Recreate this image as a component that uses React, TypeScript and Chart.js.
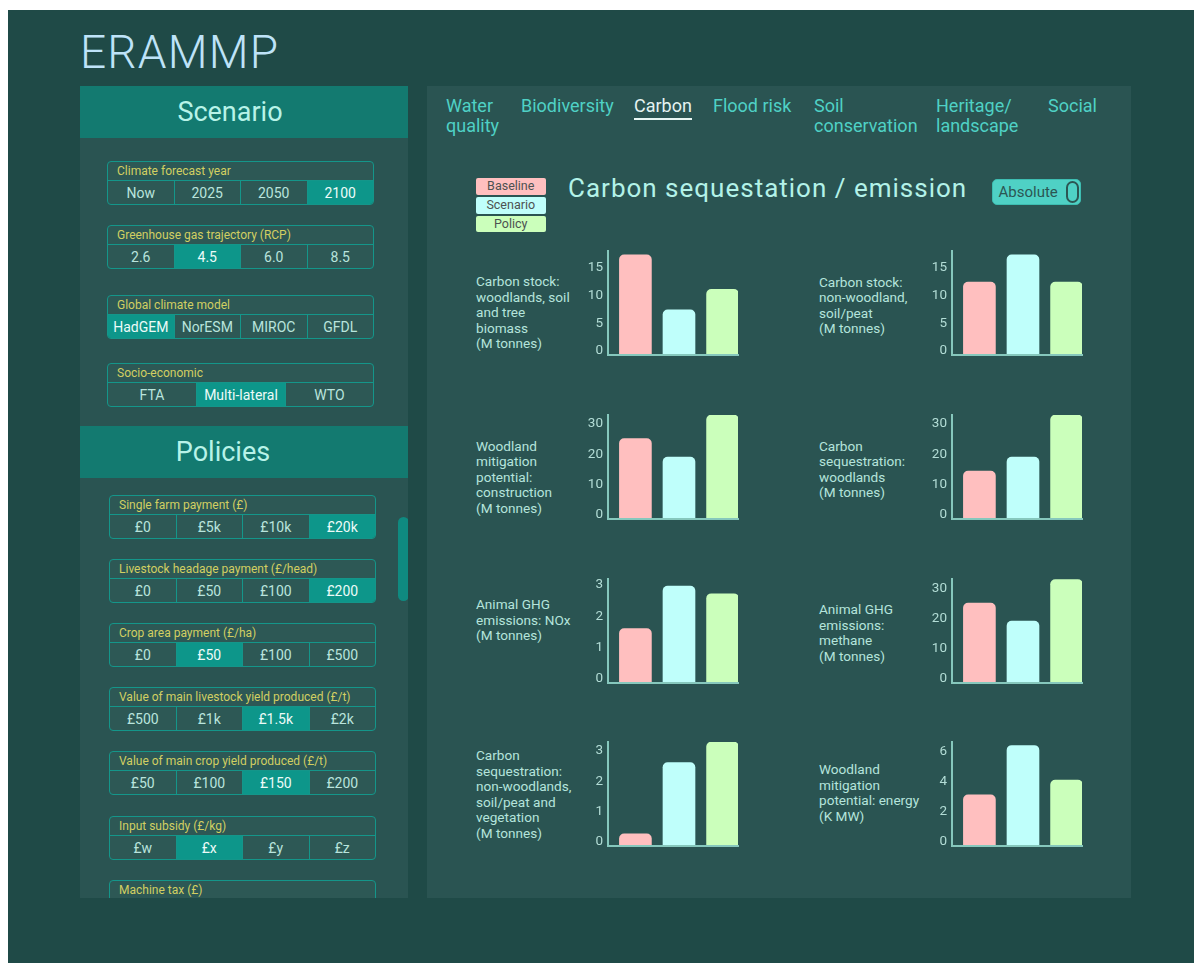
import React, { useEffect, useRef } from "react";
import { Chart, registerables } from "chart.js";
Chart.register(...registerables);

const FONT = "Roboto, 'Noto Sans', sans-serif";

// ---------- data ----------
const seriesNames = ["Baseline", "Scenario", "Policy"];
const seriesColors = ["#ffbfbf", "#bffffb", "#cbffbb"];

const chartLabels: string[][] = [
  ["Carbon stock:", "woodlands, soil", "and tree", "biomass", "(M tonnes)"],
  ["Carbon stock:", "non-woodland,", "soil/peat", "(M tonnes)"],
  ["Woodland", "mitigation", "potential:", "construction", "(M tonnes)"],
  ["Carbon", "sequestration:", "woodlands", "(M tonnes)"],
  ["Animal GHG", "emissions: NOx", "(M tonnes)"],
  ["Animal GHG", "emissions:", "methane", "(M tonnes)"],
  ["Carbon", "sequestration:", "non-woodlands,", "soil/peat and", "vegetation", "(M tonnes)"],
  ["Woodland", "mitigation", "potential: energy", "(K MW)"],
];
const baselineValues = [18.0, 13.1, 26.5, 15.8, 1.74, 26.6, 0.4, 3.38];
const scenarioValues = [8.1, 18.0, 20.4, 20.4, 3.09, 20.6, 2.74, 6.64];
const policyValues = [11.8, 13.1, 34.3, 34.3, 2.85, 34.4, 3.42, 4.36];
const axisMax = [18.7, 18.7, 34.3, 34.3, 3.32, 34.6, 3.42, 6.87];
const tickSteps = [5, 5, 10, 10, 1, 10, 1, 2];

const tabs = ["Water\nquality", "Biodiversity", "Carbon", "Flood risk", "Soil\nconservation", "Heritage/\nlandscape", "Social"];
const activeTab = 2;

const scenarioGroups = [
  { label: "Climate forecast year", options: ["Now", "2025", "2050", "2100"], selected: 3 },
  { label: "Greenhouse gas trajectory (RCP)", options: ["2.6", "4.5", "6.0", "8.5"], selected: 1 },
  { label: "Global climate model", options: ["HadGEM", "NorESM", "MIROC", "GFDL"], selected: 0 },
  { label: "Socio-economic", options: ["FTA", "Multi-lateral", "WTO"], selected: 1 },
];
const policyGroups = [
  { label: "Single farm payment (£)", options: ["£0", "£5k", "£10k", "£20k"], selected: 3 },
  { label: "Livestock headage payment (£/head)", options: ["£0", "£50", "£100", "£200"], selected: 3 },
  { label: "Crop area payment (£/ha)", options: ["£0", "£50", "£100", "£500"], selected: 1 },
  { label: "Value of main livestock yield produced (£/t)", options: ["£500", "£1k", "£1.5k", "£2k"], selected: 2 },
  { label: "Value of main crop yield produced (£/t)", options: ["£50", "£100", "£150", "£200"], selected: 2 },
  { label: "Input subsidy (£/kg)", options: ["£w", "£x", "£y", "£z"], selected: 1 },
  { label: "Machine tax (£)", options: [] as string[], selected: -1 },
];

// ---------- layout / style ----------
const BG = "#1f4a47";
const PANEL = "#2a5452";
const HEADER = "#137a70";
const SEL = "#0d968a";
const LINE = "#14968a";
const YELLOW = "#d2cf62";
const BTN_TEXT = "#b9e4dd";
const LABEL_TEXT = "#b5e4dc";
const AXIS = "#86c8bd";

const scenarioTops = [161, 225, 295, 362.5];
const policyTops = [494.5, 558.5, 623, 687, 751, 815.5, 879.5];
const tabX = [446, 521, 634, 713, 814, 936, 1048];
const colAxisX = [608, 951.5];
const colLabelX = [476, 819];
const rowAxisTop = [251, 415, 579, 742];
const labelFirstCenter = [282, 282.5, 446.7, 446.7, 605, 610, 756, 770];

function MiniBar({ index }: { index: number }) {
  const ref = useRef<HTMLCanvasElement>(null);
  const col = index % 2;
  const row = Math.floor(index / 2);
  const left = colAxisX[col] - 46;
  const top = rowAxisTop[row] - 8;
  useEffect(() => {
    const values = [baselineValues[index], scenarioValues[index], policyValues[index]];
    const chart = new Chart(ref.current as HTMLCanvasElement, {
      type: "bar",
      data: {
        datasets: [
          {
            label: "values",
            data: values.map((v, i) => ({ x: i, y: v })),
            backgroundColor: seriesColors,
            borderWidth: 0,
            borderRadius: 5,
            barThickness: 32,
          } as any,
        ],
      },
      options: {
        responsive: false,
        animation: false,
        devicePixelRatio: 1,
        layout: { padding: { top: 8, right: 3, bottom: 3, left: 0 } },
        plugins: { legend: { display: false }, tooltip: { enabled: false } },
        scales: {
          x: {
            type: "linear",
            offset: false,
            min: -0.629,
            max: 2.354,
            ticks: { display: false, stepSize: 1 },
            grid: { display: false, drawTicks: false },
            border: { display: true, color: AXIS, width: 2, z: 1 },
            afterFit: (s: any) => {
              s.height = 0;
              s.paddingLeft = 0;
              s.paddingRight = 0;
            },
          },
          y: {
            min: 0,
            max: axisMax[index],
            ticks: {
              stepSize: tickSteps[index],
              includeBounds: false,
              color: "#b3ddd6",
              font: { family: FONT, size: 13.5 },
              padding: 5,
              labelOffset: -4,
            },
            grid: { display: false, drawTicks: false },
            border: { display: true, color: AXIS, width: 2, z: 1 },
            afterFit: (s: any) => {
              s.width = 46;
              s.paddingTop = 0;
              s.paddingBottom = 0;
            },
          },
        } as any,
      },
    });
    return () => chart.destroy();
  }, [index]);
  return (
    <canvas
      ref={ref}
      width={179}
      height={115}
      style={{ position: "absolute", left, top, width: 179, height: 115 }}
    />
  );
}

function ChartLabel({ index }: { index: number }) {
  const col = index % 2;
  const lh = 15.5;
  return (
    <div
      style={{
        position: "absolute",
        left: colLabelX[col],
        top: labelFirstCenter[index] - lh / 2,
        fontSize: 13.6,
        lineHeight: `${lh}px`,
        color: LABEL_TEXT,
        whiteSpace: "nowrap",
      }}
    >
      {chartLabels[index].map((l, i) => (
        <div key={i}>{l}</div>
      ))}
    </div>
  );
}

function Group({
  left,
  top,
  width,
  label,
  options,
  selected,
  widths,
}: {
  left: number;
  top: number;
  width: number;
  label: string;
  options: string[];
  selected: number;
  widths?: number[];
}) {
  return (
    <div
      style={{
        position: "absolute",
        left,
        top,
        width,
        height: 44,
        boxSizing: "border-box",
        border: `1px solid ${LINE}`,
        borderRadius: 4,
        overflow: "hidden",
        background: "#2d5855",
      }}
    >
      <div
        style={{
          height: 18,
          lineHeight: "18px",
          borderBottom: `1px solid ${LINE}`,
          paddingLeft: 9,
          fontSize: 12,
          color: YELLOW,
          whiteSpace: "nowrap",
        }}
      >
        {label}
      </div>
      <div style={{ display: "flex", height: 24 }}>
        {options.map((o, i) => (
          <div
            key={i}
            style={{
              flex: widths ? `0 0 ${widths[i]}px` : "1 1 0",
              boxSizing: "border-box",
              borderLeft: i === 0 ? "none" : `1px solid ${LINE}`,
              background: i === selected ? SEL : "transparent",
              color: i === selected ? "#ecfbf8" : BTN_TEXT,
              fontSize: 14,
              lineHeight: "25px",
              textAlign: "center",
            }}
          >
            {o}
          </div>
        ))}
      </div>
    </div>
  );
}

function LeftPanel() {
  const ox = 80;
  const oy = 86;
  return (
    <div
      style={{
        position: "absolute",
        left: ox,
        top: oy,
        width: 328,
        height: 812,
        background: PANEL,
        overflow: "hidden",
      }}
    >
      <div
        style={{
          position: "absolute",
          left: 0,
          top: 0,
          width: 328,
          height: 52,
          background: HEADER,
          color: "#b8f3e8",
          fontSize: 27,
          lineHeight: "52px",
        }}
      >
        <span style={{ position: "absolute", left: 230 - ox - 60, top: 0, width: 120, textAlign: "center" }}>Scenario</span>
      </div>
      {scenarioGroups.map((g, i) => (
        <Group
          key={i}
          left={107 - ox}
          top={scenarioTops[i] - oy}
          width={267}
          label={g.label}
          options={g.options}
          selected={g.selected}
          widths={g.options.length === 3 ? [88, 89, 88] : undefined}
        />
      ))}
      <div
        style={{
          position: "absolute",
          left: 0,
          top: 426 - oy,
          width: 328,
          height: 52,
          background: HEADER,
          color: "#b8f3e8",
          fontSize: 27,
          lineHeight: "52px",
        }}
      >
        <span style={{ position: "absolute", left: 223 - ox - 60, top: 0, width: 120, textAlign: "center" }}>Policies</span>
      </div>
      {policyGroups.map((g, i) => (
        <Group
          key={i}
          left={109 - ox}
          top={policyTops[i] - oy}
          width={267}
          label={g.label}
          options={g.options}
          selected={g.selected}
        />
      ))}
      <div
        style={{
          position: "absolute",
          left: 397.5 - ox,
          top: 516.5 - oy,
          width: 11,
          height: 84,
          borderRadius: 6,
          background: "#0f8a80",
        }}
      />
    </div>
  );
}

function RightPanel() {
  return (
    <>
      <div
        style={{
          position: "absolute",
          left: 427,
          top: 86,
          width: 704,
          height: 812,
          background: PANEL,
        }}
      />
      {tabs.map((t, i) => (
        <div
          key={i}
          style={{
            position: "absolute",
            left: tabX[i],
            top: 96,
            fontSize: 18,
            lineHeight: "20px",
            color: i === activeTab ? "#e4f3f1" : "#4fd1c5",
            whiteSpace: "pre",
          }}
        >
          {t}
          {i === activeTab && (
            <div
              style={{
                position: "absolute",
                left: 0,
                right: 0,
                top: 22,
                height: 2,
                background: "#e8f6f4",
              }}
            />
          )}
        </div>
      ))}
      {seriesNames.map((s, i) => (
        <div
          key={s}
          style={{
            position: "absolute",
            left: 476,
            top: [178.3, 197, 215.7][i],
            width: 69.5,
            height: 16.5,
            borderRadius: 2,
            background: seriesColors[i],
            color: "#4d5251",
            fontSize: 12.5,
            lineHeight: "16.5px",
            textAlign: "center",
          }}
        >
          {s}
        </div>
      ))}
      <div
        style={{
          position: "absolute",
          left: 568,
          top: 173,
          fontSize: 26,
          lineHeight: "30px",
          letterSpacing: 1,
          color: "#b3f2e8",
          whiteSpace: "nowrap",
        }}
      >
        Carbon sequestation / emission
      </div>
      <div
        style={{
          position: "absolute",
          left: 991.5,
          top: 178.5,
          width: 89,
          height: 26.5,
          boxSizing: "border-box",
          borderRadius: 5,
          background: "#4fd1c5",
          border: "1px solid #3dbdb1",
        }}
      >
        <span
          style={{
            position: "absolute",
            left: 6,
            top: 0,
            fontSize: 15,
            lineHeight: "25px",
            color: "#2c5653",
          }}
        >
          Absolute
        </span>
        <div
          style={{
            position: "absolute",
            left: 73.5,
            top: 1.5,
            width: 13,
            height: 22,
            boxSizing: "border-box",
            borderRadius: 7,
            border: "2px solid #2c5653",
          }}
        />
      </div>
      {chartLabels.map((_, i) => (
        <React.Fragment key={i}>
          <ChartLabel index={i} />
          <MiniBar index={i} />
        </React.Fragment>
      ))}
    </>
  );
}

export default function App() {
  return (
    <div
      style={{
        position: "absolute",
        left: 0,
        top: 0,
        width: 1202,
        height: 965,
        fontFamily: FONT,
      }}
    >
      <div style={{ position: "absolute", left: 8, top: 10, width: 1186, height: 953, background: BG }} />
      <div
        style={{
          position: "absolute",
          left: 80,
          top: 29,
          fontSize: 46,
          lineHeight: "46px",
          fontWeight: 300,
          color: "#bee3f8",
          letterSpacing: 1.2,
        }}
      >
        ERAMMP
      </div>
      <LeftPanel />
      <RightPanel />
    </div>
  );
}
